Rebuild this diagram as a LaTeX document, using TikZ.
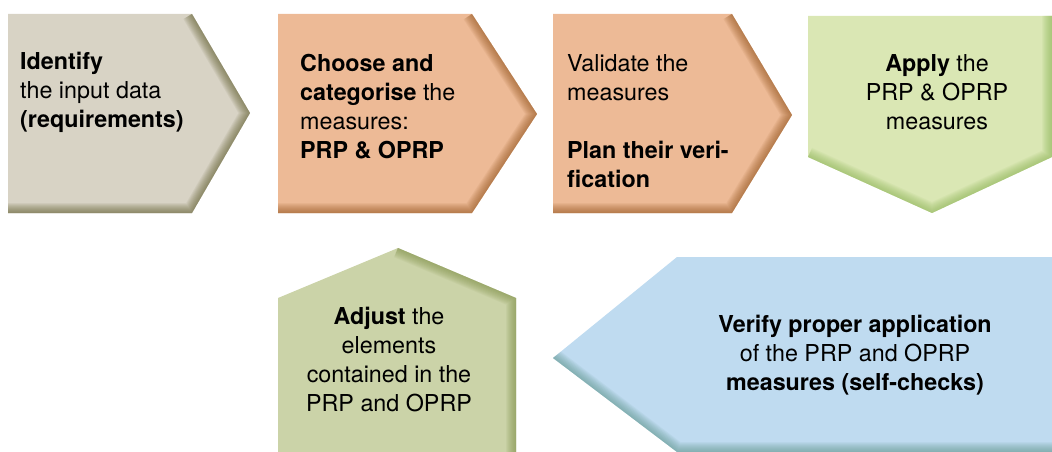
\documentclass[tikz,border=0pt]{standalone}
\usepackage{fontspec}
\setmainfont{TeX Gyre Heros}
\usetikzlibrary{positioning}

\definecolor{greyfill}{HTML}{D8D3C5}
\definecolor{greyedge}{HTML}{5E5C2C}
\definecolor{orangefill}{HTML}{EDBA96}
\definecolor{orangeedge}{HTML}{94561F}
\definecolor{limefill}{HTML}{DAE7B4}
\definecolor{limeedge}{HTML}{8DB556}
\definecolor{olivefill}{HTML}{CBD3A8}
\definecolor{oliveedge}{HTML}{7E8F45}
\definecolor{bluefill}{HTML}{BFDBF0}
\definecolor{blueedge}{HTML}{5E968C}

\begin{document}
\begin{tikzpicture}[x=1pt, y=-1pt,
                    txt/.style={inner sep=0pt, text=black, font=\fontsize{23.3}{29}\selectfont},
                    rim/.style={line width=#1, opacity=0.08, line join=round}]
\useasboundingbox (0,0) rectangle (1052,452);

% input data
\begin{scope}
\clip (8,14) -- (192,14) -- (250,113) -- (192,213) -- (8,213) -- cycle;
\fill[greyfill] (0,0) rectangle (260,220);
\foreach \w in {2,4,...,20}
    \draw[greyedge, rim=\w] (192,14) -- (250,113) -- (192,213) -- (8,213);
\end{scope}

% choose and categorise
\begin{scope}
\clip (278,14) -- (472,14) -- (537,114) -- (472,213) -- (278,213) -- cycle;
\fill[orangefill] (270,0) rectangle (545,220);
\foreach \w in {2,4,...,20}
    \draw[orangeedge, rim=\w] (472,14) -- (537,114) -- (472,213) -- (278,213);
\end{scope}

% validate
\begin{scope}
\clip (553,14) -- (732,14) -- (792,115) -- (732,213) -- (553,213) -- cycle;
\fill[orangefill] (545,0) rectangle (800,220);
\foreach \w in {2,4,...,20}
    \draw[orangeedge, rim=\w] (732,14) -- (792,115) -- (732,213) -- (553,213);
\end{scope}

% apply
\begin{scope}
\clip (808,16) -- (1052,16) -- (1052,157) -- (932,213) -- (808,157) -- cycle;
\fill[limefill] (800,0) rectangle (1052,220);
\foreach \w in {2,4,...,20}
    \draw[limeedge, rim=\w] (1052,16) -- (1052,157) -- (932,213) -- (808,157);
\end{scope}

% adjust
\begin{scope}
\clip (278,452) -- (278,298) -- (398,248) -- (516,298) -- (516,452) -- cycle;
\fill[olivefill] (270,240) rectangle (520,452);
\foreach \w in {2,4,...,20}
    \draw[oliveedge, rim=\w] (398,248) -- (516,298) -- (516,452);
\end{scope}

% verify
\begin{scope}
\clip (553,358) -- (677,257) -- (1052,257) -- (1052,452) -- (677,452) -- cycle;
\fill[bluefill] (545,250) rectangle (1052,452);
\foreach \w in {2,4,...,20}
    \draw[blueedge, rim=\w] (553,358) -- (677,452) -- (1052,452);
\end{scope}

\node[txt, anchor=west, align=left] (input) at (20,92)
    {\textbf{Identify}\\the input data\\\textbf{(requirements)}};
\node[txt, anchor=west, align=left] (choose) at (300,107)
    {\textbf{Choose and}\\\textbf{categorise} the\\measures:\\\textbf{PRP \& OPRP}};
\node[txt, anchor=west, align=left] (validate) at (567,121)
    {Validate the\\measures\\[29pt]\textbf{Plan their veri-}\\\textbf{fication}};
\node[txt, align=center] (apply) at (937,92)
    {\textbf{Apply} the\\PRP \& OPRP\\measures};
\node[txt, align=center] (adjust) at (389,360)
    {\textbf{Adjust} the\\elements\\contained in the\\PRP and OPRP};
\node[txt, align=center] (verify) at (855,355)
    {\textbf{Verify proper application}\\of the PRP and OPRP\\\textbf{measures (self-checks)}};
\end{tikzpicture}
\end{document}
